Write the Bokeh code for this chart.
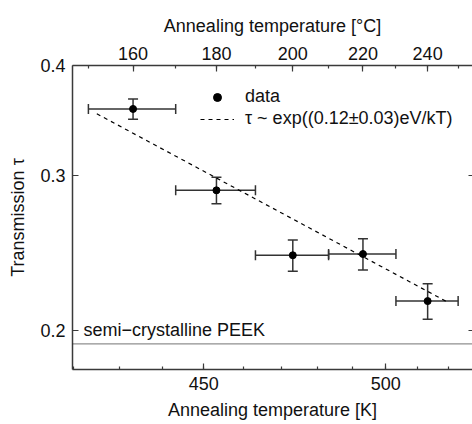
import numpy as np
from bokeh.plotting import figure
from bokeh.models import (Range1d, LinearAxis, LogAxis, FixedTicker, CustomJSTickFormatter,
                          PrintfTickFormatter, Whisker, TeeHead, ColumnDataSource, Span, Label,
                          Legend, LegendItem)
from bokeh.embed import file_html
from bokeh.resources import INLINE

# ---- data ----
T_C = [160, 180, 200, 220, 240]                 # annealing temperature [°C]
tau = [0.357, 0.2885, 0.2434, 0.2442, 0.2159]    # transmission
tau_err = [0.0095, 0.010, 0.010, 0.010, 0.010]
T_err = [10, 10, 10, 10, 10]                     # K
fit_T = [425, 520]                               # K, dashed fit line ends
fit_tau = [0.3525, 0.2150]
peek_tau = 0.193
x_lim_K = [419.7, 528.0]
y_lim = [0.1805, 0.4]
bottom_major_K = [450, 500]
bottom_minor_K = list(range(420, 531, 10))
top_major_C = [160, 180, 200, 220, 240]
top_minor_C = list(range(150, 251, 10))
y_ticks = [0.2, 0.3, 0.4]

FONT = "Liberation Sans"
AX = "#3a3a3a"

def inv(TK):
    return 1000.0 / np.asarray(TK, dtype=float)

T_K = np.asarray(T_C, dtype=float) + 273.15
x = inv(T_K)
tau_a = np.asarray(tau)
err_a = np.asarray(tau_err)
terr = np.asarray(T_err, dtype=float)

src = ColumnDataSource(dict(
    x=x, y=tau_a,
    ylo=tau_a - err_a, yhi=tau_a + err_a,
    xlo=inv(T_K - terr), xhi=inv(T_K + terr),
))

p = figure(width=472, height=424, output_backend="svg", toolbar_location=None,
           y_axis_type="log",
           x_range=Range1d(start=inv(x_lim_K[0]), end=inv(x_lim_K[1])),
           y_range=Range1d(start=y_lim[0], end=y_lim[1]),
           min_border_left=72, min_border_right=0, min_border_top=65, min_border_bottom=55,
           x_axis_location=None, y_axis_location=None)
p.outline_line_color = None
p.xgrid.visible = False
p.ygrid.visible = False

def style(ax):
    ax.axis_line_color = AX
    ax.axis_line_width = 1.5
    ax.major_tick_line_color = AX
    ax.minor_tick_line_color = AX
    ax.major_tick_line_width = 1.2
    ax.minor_tick_line_width = 1.2
    ax.major_tick_in = 6
    ax.major_tick_out = 0
    ax.minor_tick_in = 3
    ax.minor_tick_out = 0
    ax.major_label_text_font = FONT
    ax.major_label_text_font_size = "18px"
    ax.major_label_text_color = "#111111"
    ax.axis_label_text_font = FONT
    ax.axis_label_text_font_size = "18px"
    ax.axis_label_text_font_style = "normal"
    ax.axis_label_text_color = "#111111"

bottom = LinearAxis(axis_label="Annealing temperature [K]",
                    ticker=FixedTicker(ticks=list(inv(bottom_major_K)), minor_ticks=list(inv(bottom_minor_K))),
                    formatter=CustomJSTickFormatter(code="return Math.round(1000/tick).toFixed(0);"))
style(bottom)
bottom.major_label_standoff = 7
bottom.axis_label_standoff = 7
p.add_layout(bottom, "below")

top = LinearAxis(axis_label="Annealing temperature [°C]",
                 ticker=FixedTicker(ticks=list(inv(np.array(top_major_C) + 273.15)),
                                    minor_ticks=list(inv(np.array(top_minor_C) + 273.15))),
                 formatter=CustomJSTickFormatter(code="return Math.round(1000/tick - 273.15).toFixed(0);"))
style(top)
top.major_label_standoff = 6
top.axis_label_standoff = 8
p.add_layout(top, "above")

left = LogAxis(axis_label="Transmission τ",
               ticker=FixedTicker(ticks=y_ticks, minor_ticks=[]),
               formatter=PrintfTickFormatter(format="%.1f"))
style(left)
left.major_label_standoff = 7
left.axis_label_standoff = 9
p.add_layout(left, "left")

# right frame axis: ticks only
right = LogAxis(ticker=FixedTicker(ticks=y_ticks, minor_ticks=[]),
                formatter=CustomJSTickFormatter(code="return '';"))
style(right)
right.major_tick_in = 4
right.major_label_standoff = 0
right.axis_label_standoff = 0
right.axis_line_width = 1
p.add_layout(right, "right")

# reference level
p.add_layout(Span(location=peek_tau, dimension="width", line_color="#222222",
                  line_dash="1 1", line_width=1.2))
p.add_layout(Label(x=11, x_units="screen", y=0.2, text="semi−crystalline PEEK",
                   text_font=FONT, text_font_size="18px", text_baseline="middle",
                   text_color="#111111"))

# error bars
p.add_layout(Whisker(source=src, base="x", lower="ylo", upper="yhi", dimension="height",
                     line_color="#333333", line_width=1.5,
                     lower_head=TeeHead(size=10, line_color="#333333", line_width=1.5),
                     upper_head=TeeHead(size=10, line_color="#333333", line_width=1.5)))
p.add_layout(Whisker(source=src, base="y", lower="xlo", upper="xhi", dimension="width",
                     line_color="#333333", line_width=1.5,
                     lower_head=TeeHead(size=10, line_color="#333333", line_width=1.5),
                     upper_head=TeeHead(size=10, line_color="#333333", line_width=1.5)))

fit_r = p.line(inv(fit_T), fit_tau, line_color="black", line_dash="4 4", line_width=1.2)
pts = p.scatter("x", "y", source=src, size=7, color="black")

legend = Legend(items=[LegendItem(label="data", renderers=[pts]),
                       LegendItem(label="τ ~ exp((0.12±0.03)eV/kT)", renderers=[fit_r])],
                location=(128, 240), border_line_alpha=0, background_fill_alpha=0,
                padding=0, margin=0, spacing=1, glyph_width=34, glyph_height=20,
                label_height=20, label_standoff=11,
                label_text_font=FONT, label_text_font_size="18px", label_text_color="#111111")
p.add_layout(legend, "center")

open("out.html", "w").write(file_html(p, INLINE))
